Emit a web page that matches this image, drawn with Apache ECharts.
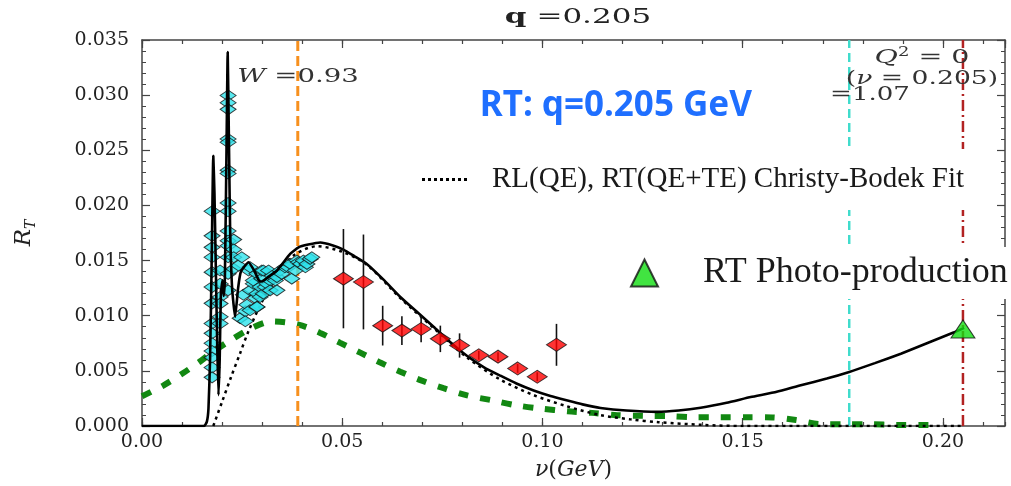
<!DOCTYPE html>
<html>
<head>
<meta charset="utf-8">
<title>RT: q=0.205 GeV</title>
<script src="https://cdn.jsdelivr.net/npm/echarts@6/dist/echarts.min.js"></script>
<style>
  html, body { margin: 0; padding: 0; background: #fff; }
  #chart { width: 1011px; height: 486px; }
</style>
</head>
<body>
<div id="chart"></div>
<script>
// ---- axis ranges ----
const X_MIN = 0;
const X_MAX = 0.2155;
const Y_MIN = 0;
const Y_MAX = 0.035;

// ---- reference lines (nu in GeV) ----
const nuW093 = 0.0389;      // W = 0.93
const nuW107 = 0.1766;      // W = 1.07
const nuPhoto = 0.205;      // Q^2 = 0

// ---- full fit RT (QE + TE + resonances), solid black ----
const fitNu = [0, 0.0155, 0.0162, 0.0166, 0.0170, 0.0174, 0.0178, 0.0181, 0.0184, 0.0188, 0.0191, 0.0194,
  0.0197, 0.0201, 0.0204, 0.0207, 0.0211, 0.0214, 0.0217, 0.0220, 0.0225, 0.02325, 0.0240, 0.0247,
  0.0266, 0.0280, 0.0292, 0.0300, 0.0315, 0.0337, 0.0370, 0.0391, 0.0415, 0.0445, 0.0475, 0.0503,
  0.0530, 0.0562, 0.0605, 0.0645, 0.0685, 0.0728, 0.0770, 0.0812, 0.0855, 0.0895, 0.0935, 0.0978,
  0.1020, 0.1060, 0.1100, 0.1145, 0.1210, 0.1287, 0.1340, 0.1395, 0.1460, 0.1520, 0.1585, 0.1645,
  0.1710, 0.1766, 0.1830, 0.1895, 0.1960, 0.2028, 0.2053];
const fitRT = [0, 0, 0.0004, 0.0016, 0.0061, 0.0150, 0.0245, 0.0210, 0.0150, 0.0070, 0.0028, 0.0060,
  0.0120, 0.0132, 0.0118, 0.0135, 0.0250, 0.0339, 0.0260, 0.0180, 0.0125, 0.0099, 0.0125, 0.0140,
  0.01485, 0.0141, 0.0132, 0.0131, 0.0135, 0.0141, 0.0156, 0.0162, 0.01645, 0.01664, 0.0164, 0.0160,
  0.0154, 0.01467, 0.0132, 0.0117, 0.0104, 0.0090, 0.0076, 0.00635, 0.0053, 0.00456, 0.00385, 0.00322,
  0.00272, 0.00233, 0.00196, 0.00164, 0.0014, 0.00128, 0.0014, 0.00165, 0.0021, 0.00262, 0.0031, 0.0037,
  0.0043, 0.0049, 0.0057, 0.00655, 0.0075, 0.0085, 0.0089];

// ---- RL(QE), RT(QE+TE) Christy-Bodek fit, dotted black ----
const cbNu = [0.0178, 0.0200, 0.0222, 0.0245, 0.0266, 0.0300, 0.0340, 0.0380, 0.0437, 0.0500, 0.0562,
  0.0645, 0.0728, 0.0812, 0.0895, 0.0978, 0.1060, 0.1145, 0.1220, 0.1290, 0.1400, 0.1500, 0.2050];
const cbRT = [0, 0.0022, 0.0044, 0.0066, 0.0086, 0.0113, 0.0138, 0.0155, 0.0163, 0.0158, 0.0146,
  0.0116, 0.0089, 0.0062, 0.0042, 0.0028, 0.0018, 0.00098, 0.0006, 0.00035, 0.0001, 0, 0];

// ---- second model curve, thick green dashes ----
const grNu = [0, 0.0053, 0.0099, 0.0141, 0.0180, 0.0224, 0.0274, 0.0324, 0.0391, 0.0445, 0.0495,
  0.0545, 0.0595, 0.0645, 0.0699, 0.0753, 0.0812, 0.0874, 0.0933, 0.0995, 0.1062, 0.1124, 0.1187,
  0.1253, 0.1316, 0.1383, 0.1445, 0.1508, 0.1574, 0.1633, 0.1691, 0.1753, 0.1820, 0.1883, 0.1945, 0.1970];
const grRT = [0.0027, 0.00367, 0.00471, 0.00575, 0.0068, 0.00784, 0.00888, 0.00948, 0.00919, 0.00844, 0.00754,
  0.00665, 0.00575, 0.00492, 0.00411, 0.00343, 0.00277, 0.00233, 0.00188, 0.00158, 0.00134, 0.00119, 0.00098,
  0.00092, 0.00089, 0.0008, 0.0008, 0.0008, 0.00078, 0.00054, 0.00018, 0.00015, 0.00015, 0.0001, 0.0001, 0.0001];

// ---- resonance-region data (cyan diamonds) ----
const resNu = [
  0.0175, 0.0175, 0.0175, 0.0175, 0.0175, 0.0175, 0.0175, 0.0175, 0.0175, 0.0175, 0.0175, 0.0175, 0.0175, 0.0175,
  0.0195, 0.0195, 0.0195, 0.0195, 0.0195, 0.0195,
  0.0215, 0.0215, 0.0215, 0.0215, 0.0215, 0.0215, 0.0215, 0.0215, 0.0215, 0.0215, 0.0215, 0.0215, 0.0215, 0.0215, 0.0215,
  0.0229, 0.0229, 0.0229, 0.0229,
  0.0241, 0.0245, 0.0249, 0.0253, 0.0258, 0.0258, 0.0262, 0.0266, 0.0270, 0.0270, 0.0270, 0.0278, 0.0278,
  0.0283, 0.0287, 0.0287, 0.0287, 0.0287, 0.0295, 0.0295, 0.0299, 0.0299, 0.0303, 0.0303, 0.0308, 0.0312,
  0.0316, 0.0320, 0.0320, 0.0325, 0.0333, 0.0337, 0.0337, 0.0345, 0.0349, 0.0357, 0.0365, 0.0370, 0.0374,
  0.0383, 0.0387, 0.0391, 0.0396, 0.0403, 0.0408, 0.0412, 0.0420, 0.0424];
const resRT = [
  0.01947, 0.01724, 0.0162, 0.0153, 0.01395, 0.0126, 0.01112, 0.0093, 0.0084, 0.0075, 0.0068, 0.0062, 0.0053, 0.00441,
  0.0141, 0.0129, 0.0117, 0.0111, 0.0099, 0.0093,
  0.02997, 0.02931, 0.02871, 0.02603, 0.02573, 0.0232, 0.0229, 0.02022, 0.01947, 0.01768, 0.01679, 0.01634, 0.0153, 0.0138, 0.0123,
  0.0169, 0.0160, 0.0153, 0.01425,
  0.01455, 0.00978, 0.0153, 0.0119, 0.0104, 0.0095, 0.0110, 0.0141, 0.0123, 0.0144, 0.0105, 0.0129, 0.0132,
  0.0116, 0.0138, 0.0108, 0.0120, 0.0108, 0.0126, 0.0117, 0.01336, 0.0141, 0.0141, 0.0120, 0.0126, 0.0129,
  0.0141, 0.0132, 0.0123, 0.0136, 0.0132, 0.0135, 0.0123, 0.0141, 0.0138, 0.0144, 0.0144, 0.0147, 0.01336,
  0.0141, 0.0150, 0.01485, 0.0147, 0.0150, 0.0144, 0.0147, 0.01515, 0.0153];

// ---- QE-region data with errors (red diamonds) ----
const qeNu  = [0.0503, 0.0553, 0.0601, 0.0649, 0.0697, 0.0745, 0.0793, 0.0841, 0.0889, 0.0938, 0.0987, 0.1035];
const qeRT  = [0.01336, 0.01306, 0.0091, 0.00865, 0.0088, 0.0079, 0.0073, 0.00641, 0.00629, 0.00522, 0.00447, 0.00736];
const qeErr = [0.0045, 0.0043, 0.0018, 0.0013, 0.0012, 0.0012, 0.0011, 0.0004, 0.0004, 0.0004, 0.0004, 0.0019];

// ---- photo-production point ----
const photoNu = [0.205];
const photoRT = [0.0088];

// ---- legend labels ----
const fitLegend = 'RL(QE), RT(QE+TE) Christy-Bodek Fit';
const photoLegend = 'RT Photo-production';

const pairs = (xs, ys) => xs.map((x, i) => [x, ys[i]]);
const vline = (x) => [[x, Y_MIN], [x, Y_MAX]];

const SERIF = "'DejaVu Serif', serif";
const LEG_SERIF = "'Liberation Serif', 'DejaVu Serif', serif";
const FRAME = '#444';

const chart = echarts.init(document.getElementById('chart'), null, { renderer: 'canvas' });

function xAxisDef(position, interval, tickLen, showLine, showLabel) {
  return {
    type: 'value', min: X_MIN, max: X_MAX, interval: interval, position: position,
    axisLine: { show: showLine, onZero: false, lineStyle: { color: FRAME, width: 1.5 } },
    axisTick: { show: true, inside: true, length: tickLen, lineStyle: { color: FRAME, width: 1.2 } },
    axisLabel: {
      show: showLabel, showMaxLabel: false, margin: 7,
      formatter: (v) => v.toFixed(2),
      fontFamily: SERIF, fontSize: 19, color: '#222'
    },
    splitLine: { show: false }
  };
}

function yAxisDef(position, showLabel) {
  return {
    type: 'value', min: Y_MIN, max: Y_MAX, interval: 0.005, position: position,
    axisLine: { show: true, onZero: false, lineStyle: { color: FRAME, width: 1.5 } },
    axisTick: { show: true, inside: true, length: 8, lineStyle: { color: FRAME, width: 1.2 } },
    minorTick: { show: true, splitNumber: 5, length: 4, lineStyle: { color: FRAME, width: 1 } },
    axisLabel: {
      show: showLabel, margin: 13,
      formatter: (v) => v.toFixed(3),
      fontFamily: SERIF, fontSize: 19, color: '#222'
    },
    splitLine: { show: false }
  };
}

const xMainBottom = xAxisDef('bottom', 0.05, 8, true, true);
xMainBottom.name = '{i|ν}({i|GeV})';
xMainBottom.nameLocation = 'middle';
xMainBottom.nameGap = 33;
xMainBottom.nameTextStyle = {
  fontFamily: SERIF, fontSize: 22, color: '#222',
  rich: { i: { fontFamily: SERIF, fontSize: 22, fontStyle: 'italic', color: '#222' } }
};

const yMainLeft = yAxisDef('left', true);
yMainLeft.name = '{r|R}{s|T}';
yMainLeft.nameLocation = 'middle';
yMainLeft.nameRotate = 90;
yMainLeft.nameGap = 104;
yMainLeft.nameTextStyle = {
  rich: {
    r: { fontFamily: SERIF, fontSize: 23, fontStyle: 'italic', color: '#222', lineHeight: 28 },
    s: { fontFamily: SERIF, fontSize: 14, fontStyle: 'italic', color: '#222', lineHeight: 14, verticalAlign: 'bottom' }
  }
};

const option = {
  animation: false,
  backgroundColor: '#fff',
  grid: { left: 142, right: 6, top: 40, bottom: 55, containLabel: false },
  xAxis: [
    xMainBottom,
    xAxisDef('bottom', 0.01, 4, false, false),
    xAxisDef('top', 0.05, 8, true, false),
    xAxisDef('top', 0.01, 4, false, false)
  ],
  yAxis: [yMainLeft, yAxisDef('right', false)],
  legend: [
    {
      data: [{ name: fitLegend, icon: 'path://M0,0h2v2h-2z M4,0h2v2h-2z M8,0h2v2h-2z M12,0h2v2h-2z M16,0h2v2h-2z M20,0h2v2h-2z M24,0h2v2h-2z M28,0h2v2h-2z' }],
      selectedMode: false, orient: 'horizontal',
      left: 410, top: 149, padding: [16, 12, 16, 12],
      backgroundColor: '#fff', z: 20,
      itemWidth: 51, itemHeight: 3,
      itemStyle: { color: '#000' },
      textStyle: { fontFamily: LEG_SERIF, fontSize: 29, color: '#1a1a1a', padding: [0, 0, 0, 17] }
    },
    {
      data: [photoLegend], selectedMode: false, orient: 'horizontal',
      left: 618, top: 247, padding: [8, 2, 8, 12],
      backgroundColor: '#fff', z: 20,
      itemWidth: 27, itemHeight: 27,
      textStyle: { fontFamily: LEG_SERIF, fontSize: 36, color: '#1a1a1a', padding: [0, 0, 0, 40] }
    }
  ],
  graphic: [
    {
      type: 'text', x: 578, y: 18, scaleX: 1.55, z: 30,
      style: {
        text: '{b|q} =0.205', align: 'center', verticalAlign: 'middle',
        textAlign: 'center', textVerticalAlign: 'middle',
        font: "20px 'DejaVu Serif'", fill: '#222',
        rich: { b: { fontFamily: SERIF, fontSize: 20, fontWeight: 'bold', fill: '#222' } }
      }
    },
    {
      type: 'text', x: 298, y: 77, scaleX: 1.45, z: 30,
      style: {
        text: '{i|W} =0.93', align: 'center', verticalAlign: 'middle',
        textAlign: 'center', textVerticalAlign: 'middle',
        font: "19px 'DejaVu Serif'", fill: '#333',
        rich: { i: { fontFamily: SERIF, fontSize: 19, fontStyle: 'italic', fill: '#333' } }
      }
    },
    {
      type: 'text', x: 870, y: 95, scaleX: 1.37, z: 30,
      style: {
        text: '=1.07', align: 'center', verticalAlign: 'middle',
        textAlign: 'center', textVerticalAlign: 'middle',
        font: "19px 'DejaVu Serif'", fill: '#333'
      }
    },
    {
      type: 'text', x: 922, y: 58, scaleX: 1.5, z: 30,
      style: {
        text: '{i|Q}{sup|2} = 0', align: 'center', verticalAlign: 'middle',
        textAlign: 'center', textVerticalAlign: 'middle',
        font: "19px 'DejaVu Serif'", fill: '#333',
        rich: {
          i: { fontFamily: SERIF, fontSize: 19, fontStyle: 'italic', fill: '#333', lineHeight: 22 },
          sup: { fontFamily: SERIF, fontSize: 12, fill: '#333', lineHeight: 12, verticalAlign: 'top' }
        }
      }
    },
    {
      type: 'text', x: 922, y: 79, scaleX: 1.4, z: 30,
      style: {
        text: '({i|ν} = 0.205)', align: 'center', verticalAlign: 'middle',
        textAlign: 'center', textVerticalAlign: 'middle',
        font: "19px 'DejaVu Serif'", fill: '#333',
        rich: { i: { fontFamily: SERIF, fontSize: 19, fontStyle: 'italic', fill: '#333' } }
      }
    },
    {
      type: 'text', x: 752, y: 106, z: 30,
      style: {
        text: 'RT: q=0.205 GeV', align: 'right', verticalAlign: 'middle',
        textAlign: 'right', textVerticalAlign: 'middle',
        font: "bold 35px 'Noto Sans'", fill: '#1f6fff'
      }
    }
  ],
  series: [
    {
      type: 'line', name: 'green', data: pairs(grNu, grRT), z: 2,
      showSymbol: false, symbol: 'none', smooth: 0.3, silent: true,
      lineStyle: { color: '#128812', width: 6, type: [10, 12], cap: 'butt' }
    },
    {
      type: 'line', data: vline(nuW093), z: 2, symbol: 'none', silent: true,
      lineStyle: { color: '#f7901e', width: 3, type: [10, 5] }
    },
    {
      type: 'line', data: vline(nuW107), z: 2, symbol: 'none', silent: true,
      lineStyle: { color: '#40dccc', width: 2.5, type: [9, 5] }
    },
    {
      type: 'line', data: vline(nuPhoto), z: 2, symbol: 'none', silent: true,
      lineStyle: { color: '#b22222', width: 2.5, type: [11, 4, 2, 4] }
    },
    {
      type: 'line', name: fitLegend, data: pairs(cbNu, cbRT), z: 3,
      showSymbol: false, symbol: 'none', smooth: 0.3, silent: true,
      lineStyle: { color: '#000', width: 2.5, type: [3, 4] },
      itemStyle: { color: '#000' }
    },
    {
      type: 'scatter', name: 'resonance', data: pairs(resNu, resRT), z: 4,
      symbol: 'diamond', symbolSize: [16, 11], silent: true,
      itemStyle: { color: '#2fe3ec', borderColor: '#111', borderWidth: 1 }
    },
    {
      type: 'line', name: 'full fit', data: pairs(fitNu, fitRT), z: 5,
      showSymbol: false, symbol: 'none', smooth: 0.15, silent: true,
      lineStyle: { color: '#000', width: 2.6 }
    },
    {
      type: 'custom', name: 'errors', z: 6, silent: true,
      data: qeNu.map((n, i) => [n, qeRT[i], qeErr[i]]),
      encode: { x: 0, y: 1 },
      renderItem: function (params, api) {
        const x = api.value(0), y = api.value(1), e = api.value(2);
        const top = api.coord([x, y + e]);
        const bot = api.coord([x, y - e]);
        return {
          type: 'line',
          shape: { x1: top[0], y1: top[1], x2: bot[0], y2: bot[1] },
          style: { stroke: '#111', lineWidth: 1.6 }
        };
      }
    },
    {
      type: 'scatter', name: 'QE data', data: pairs(qeNu, qeRT), z: 7,
      symbol: 'diamond', symbolSize: [20, 13], silent: true,
      itemStyle: { color: '#ff0000', borderColor: '#111', borderWidth: 1 }
    },
    {
      type: 'scatter', name: photoLegend, data: pairs(photoNu, photoRT), z: 8,
      symbol: 'triangle', symbolSize: [24, 18], silent: true,
      itemStyle: { color: '#12dd12', borderColor: '#111', borderWidth: 1 }
    }
  ]
};

chart.setOption(option);
</script>
</body>
</html>
